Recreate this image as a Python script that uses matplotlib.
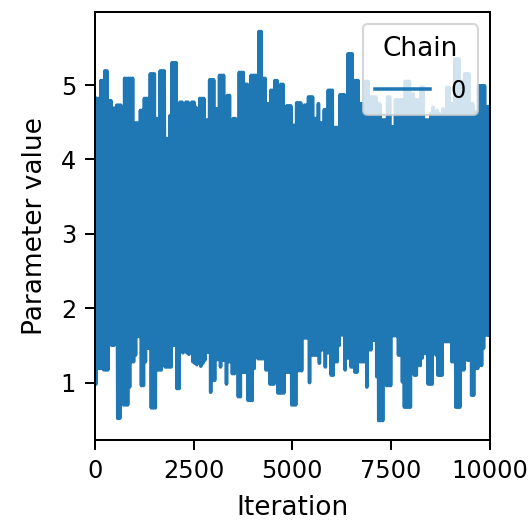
import matplotlib
matplotlib.use("Agg")
import matplotlib.pyplot as plt
import numpy as np

N_ITER = 10000

# highest / lowest sample in each block of 50 iterations
upper = [4.82, 4.82, 4.82, 5.06, 5.06, 5.19, 5.19, 4.79, 4.79, 4.69,
         4.69, 4.73, 4.73, 4.73, 4.53, 5.09, 5.09, 5.09, 5.09, 5.09,
         4.49, 4.49, 4.49, 4.66, 4.66, 4.82, 4.82, 4.82, 5.15, 5.15,
         5.15, 4.55, 4.55, 5.19, 5.19, 5.19, 4.28, 4.28, 4.59, 5.30,
         5.30, 5.30, 4.44, 4.77, 4.77, 4.62, 4.77, 4.77, 4.64, 4.77,
         4.77, 4.70, 4.61, 4.82, 4.82, 4.82, 4.53, 4.53, 5.07, 5.07,
         5.07, 4.68, 4.68, 5.13, 5.13, 5.13, 4.71, 4.86, 4.86, 4.44,
         4.55, 4.55, 4.44, 5.17, 5.17, 5.17, 5.01, 5.01, 4.79, 5.13,
         5.13, 5.13, 5.13, 5.72, 5.72, 5.09, 5.09, 4.75, 4.75, 4.93,
         4.93, 5.06, 5.06, 4.88, 5.01, 5.01, 4.35, 4.72, 4.72, 4.72,
         4.46, 4.46, 4.76, 4.76, 4.76, 4.57, 4.73, 4.73, 4.84, 4.84,
         4.84, 4.55, 4.55, 4.75, 4.49, 4.49, 4.67, 4.67, 4.93, 4.93,
         4.93, 4.43, 4.43, 4.43, 4.87, 4.87, 4.87, 4.55, 5.42, 5.42,
         5.42, 5.06, 5.06, 5.06, 4.75, 4.75, 4.75, 5.05, 5.05, 4.84,
         4.84, 4.84, 4.84, 4.75, 4.75, 4.53, 4.53, 4.53, 4.84, 4.84,
         4.44, 4.44, 4.80, 4.80, 4.80, 4.80, 4.80, 5.05, 5.05, 5.05,
         4.88, 4.88, 4.80, 4.80, 4.80, 4.97, 4.97, 4.53, 4.53, 4.53,
         4.62, 4.70, 4.58, 4.66, 4.62, 4.55, 4.68, 4.62, 4.97, 4.97,
         4.75, 4.75, 5.35, 5.35, 5.35, 5.05, 5.05, 5.15, 5.15, 5.15,
         4.75, 4.75, 4.64, 4.64, 4.99, 4.99, 4.99, 4.99, 4.71, 4.71]

lower = [0.98, 1.19, 1.19, 1.19, 1.17, 1.17, 1.17, 1.71, 1.50, 1.50,
         1.58, 0.52, 0.52, 0.92, 0.70, 0.70, 0.70, 0.94, 1.28, 1.28,
         1.37, 1.62, 1.62, 0.96, 0.96, 1.28, 1.46, 1.46, 0.66, 0.66,
         0.66, 1.17, 1.17, 1.17, 1.37, 1.21, 1.21, 1.21, 1.21, 1.50,
         1.50, 0.92, 0.92, 1.42, 1.40, 1.45, 1.40, 1.38, 1.42, 1.28,
         1.26, 1.24, 1.27, 1.22, 1.26, 1.30, 1.41, 1.41, 0.87, 1.03,
         1.03, 1.31, 1.31, 1.21, 1.30, 1.30, 0.98, 1.28, 1.28, 1.12,
         1.12, 1.40, 0.81, 0.81, 1.14, 1.14, 1.14, 0.76, 0.76, 0.76,
         1.19, 1.44, 1.32, 1.32, 1.32, 1.32, 1.17, 1.17, 0.98, 0.98,
         0.98, 1.17, 0.86, 0.86, 0.86, 0.86, 1.14, 1.14, 1.14, 0.70,
         0.70, 0.70, 1.16, 1.16, 1.16, 1.60, 1.60, 1.60, 1.00, 1.37,
         1.37, 1.37, 1.37, 1.26, 1.44, 1.44, 1.21, 1.40, 1.40, 1.10,
         1.10, 1.28, 1.28, 1.50, 1.64, 1.64, 1.17, 1.33, 1.33, 1.21,
         1.21, 1.14, 1.14, 1.28, 1.28, 1.28, 1.28, 0.94, 1.44, 1.44,
         1.57, 1.57, 1.08, 0.49, 0.49, 0.49, 1.28, 0.96, 0.96, 0.96,
         1.63, 1.63, 1.63, 1.37, 1.37, 1.01, 0.67, 0.67, 0.67, 0.67,
         1.23, 1.10, 1.10, 1.23, 1.23, 1.33, 1.39, 1.39, 0.98, 0.98,
         0.98, 1.48, 1.37, 1.10, 1.10, 1.10, 1.55, 1.55, 1.55, 1.55,
         1.28, 1.28, 0.67, 0.67, 0.67, 1.17, 1.17, 1.39, 1.30, 1.30,
         0.83, 0.83, 1.19, 1.19, 1.23, 1.23, 1.46, 1.64, 1.64, 1.64]

x_ticks = [0, 2500, 5000, 7500, 10000]

plt.rcParams.update({
    "font.size": 12.7,
    "axes.labelsize": 12.7,
    "xtick.labelsize": 11.5,
    "ytick.labelsize": 11.5,
    "legend.fontsize": 11.5,
    "legend.title_fontsize": 12.7,
    "axes.linewidth": 0.96,
    "xtick.major.width": 0.96,
    "ytick.major.width": 0.96,
    "xtick.major.size": 4.6,
    "ytick.major.size": 4.6,
    "xtick.major.pad": 4.5,
    "ytick.major.pad": 4.5,
})

# trace swings between the block extremes
trace = np.empty(2 * len(upper))
trace[0::2] = upper
trace[1::2] = lower
iters = np.linspace(0, N_ITER - 1, len(trace))

fig, ax = plt.subplots(figsize=(532 / 150, 522 / 150), dpi=150)
fig.subplots_adjust(left=95 / 532, right=489.5 / 532, top=1 - 12 / 522, bottom=1 - 440 / 522)

ax.plot(iters, trace, color="#1f77b4", lw=1.7, label="0")
ax.set_xlim(0, N_ITER)
ax.set_xticks(x_ticks)
ax.set_xlabel("Iteration", labelpad=6)
ax.set_ylabel("Parameter value", labelpad=6)
ax.legend(title="Chain", loc="upper right", handlelength=2.3, handletextpad=0.85,
          borderpad=0.5, labelspacing=0.7)

fig.savefig("out.png", dpi=150)
